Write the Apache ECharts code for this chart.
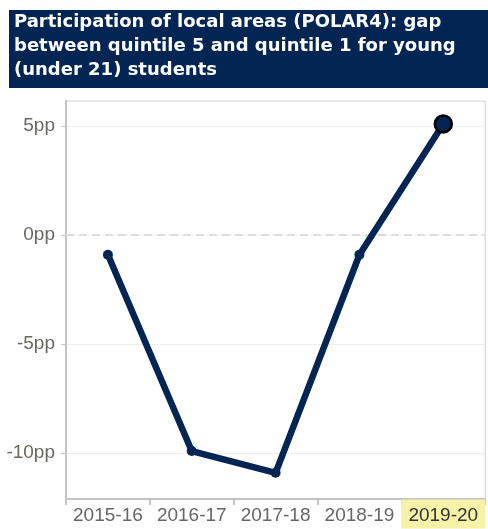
<!DOCTYPE html>
<html>
<head>
<meta charset="utf-8">
<script src="https://cdn.jsdelivr.net/npm/echarts@6/dist/echarts.min.js"></script>
<style>
html,body{margin:0;padding:0;background:#fff;}
#chart{width:488px;height:529px;}
</style>
</head>
<body>
<div id="chart"></div>
<script>
var categories = ['2015-16', '2016-17', '2017-18', '2018-19', '2019-20'];
var gapValues = [-0.9, -9.9, -10.9, -0.9, 5.1];
var yTickValues = [-10, -5, 0, 5];
var highlightCategory = '2019-20';
var titleText = 'Participation of local areas (POLAR4): gap\nbetween quintile 5 and quintile 1 for young\n(under 21) students';

var FONT = '"Liberation Sans", Arial, sans-serif';
var TITLE_FONT = '"DejaVu Sans", Verdana, sans-serif';
var NAVY = '#022553';

var seriesData = gapValues.map(function (v, i) {
  var last = i === gapValues.length - 1;
  return {
    value: v,
    symbolSize: last ? 17 : 10,
    itemStyle: last ? { color: NAVY, borderColor: '#000', borderWidth: 2.5 } : { color: NAVY, borderWidth: 0 }
  };
});

var chart = echarts.init(document.getElementById('chart'), null, { renderer: 'canvas' });
chart.setOption({
  animation: false,
  title: {
    text: titleText,
    left: 9,
    top: 10,
    padding: [0, 5, 6, 5],
    backgroundColor: NAVY,
    textStyle: {
      color: '#fff',
      fontFamily: TITLE_FONT,
      fontWeight: 'bold',
      fontSize: 18,
      lineHeight: 24,
      width: 469
    }
  },
  grid: {
    left: 66,
    right: 0,
    top: 101,
    bottom: 30,
    show: true,
    borderColor: '#cfcfcf',
    borderWidth: 1,
    backgroundColor: 'transparent'
  },
  xAxis: {
    type: 'category',
    data: categories,
    boundaryGap: true,
    axisLine: { show: true, onZero: false, lineStyle: { color: '#c4c4c4', width: 2 } },
    axisTick: { show: true, length: 6, alignWithLabel: false, lineStyle: { color: '#c4c4c4', width: 2 } },
    splitLine: { show: false },
    axisLabel: {
      margin: 2,
      interval: 0,
      fontFamily: FONT,
      fontSize: 19,
      color: '#666',
      formatter: function (v) {
        return v === highlightCategory ? '{hl|' + v + '}' : '{n|' + v + '}';
      },
      rich: {
        n: { fontFamily: FONT, fontSize: 19, color: '#666', height: 26, lineHeight: 26, padding: [3, 0, 0, 0] },
        hl: { fontFamily: FONT, fontSize: 19, color: '#333', backgroundColor: '#f6f2a8', width: 84, height: 26, lineHeight: 26, padding: [3, 0, 0, 0], align: 'center' }
      }
    }
  },
  yAxis: {
    type: 'value',
    min: -12.1,
    max: 6.15,
    axisLine: { show: true, lineStyle: { color: '#c4c4c4', width: 2 } },
    axisTick: { show: true, length: 5, customValues: yTickValues, lineStyle: { color: '#c4c4c4', width: 1 } },
    splitLine: { show: true, lineStyle: { color: '#efefef', width: 1 } },
    axisLabel: {
      customValues: yTickValues,
      margin: 11,
      fontFamily: FONT,
      fontSize: 19,
      color: '#6b6660',
      formatter: function (v) {
        return v + 'pp';
      }
    }
  },
  series: [{
    type: 'line',
    data: seriesData,
    symbol: 'circle',
    showAllSymbol: true,
    lineStyle: { color: NAVY, width: 6.5, cap: 'round', join: 'round' },
    itemStyle: { color: NAVY },
    emphasis: { disabled: true },
    z: 3,
    markLine: {
      silent: true,
      symbol: 'none',
      label: { show: false },
      lineStyle: { color: '#dddddd', type: [8, 5], width: 2 },
      data: [{ yAxis: 0 }],
      z: 1
    }
  }]
});
</script>
</body>
</html>
